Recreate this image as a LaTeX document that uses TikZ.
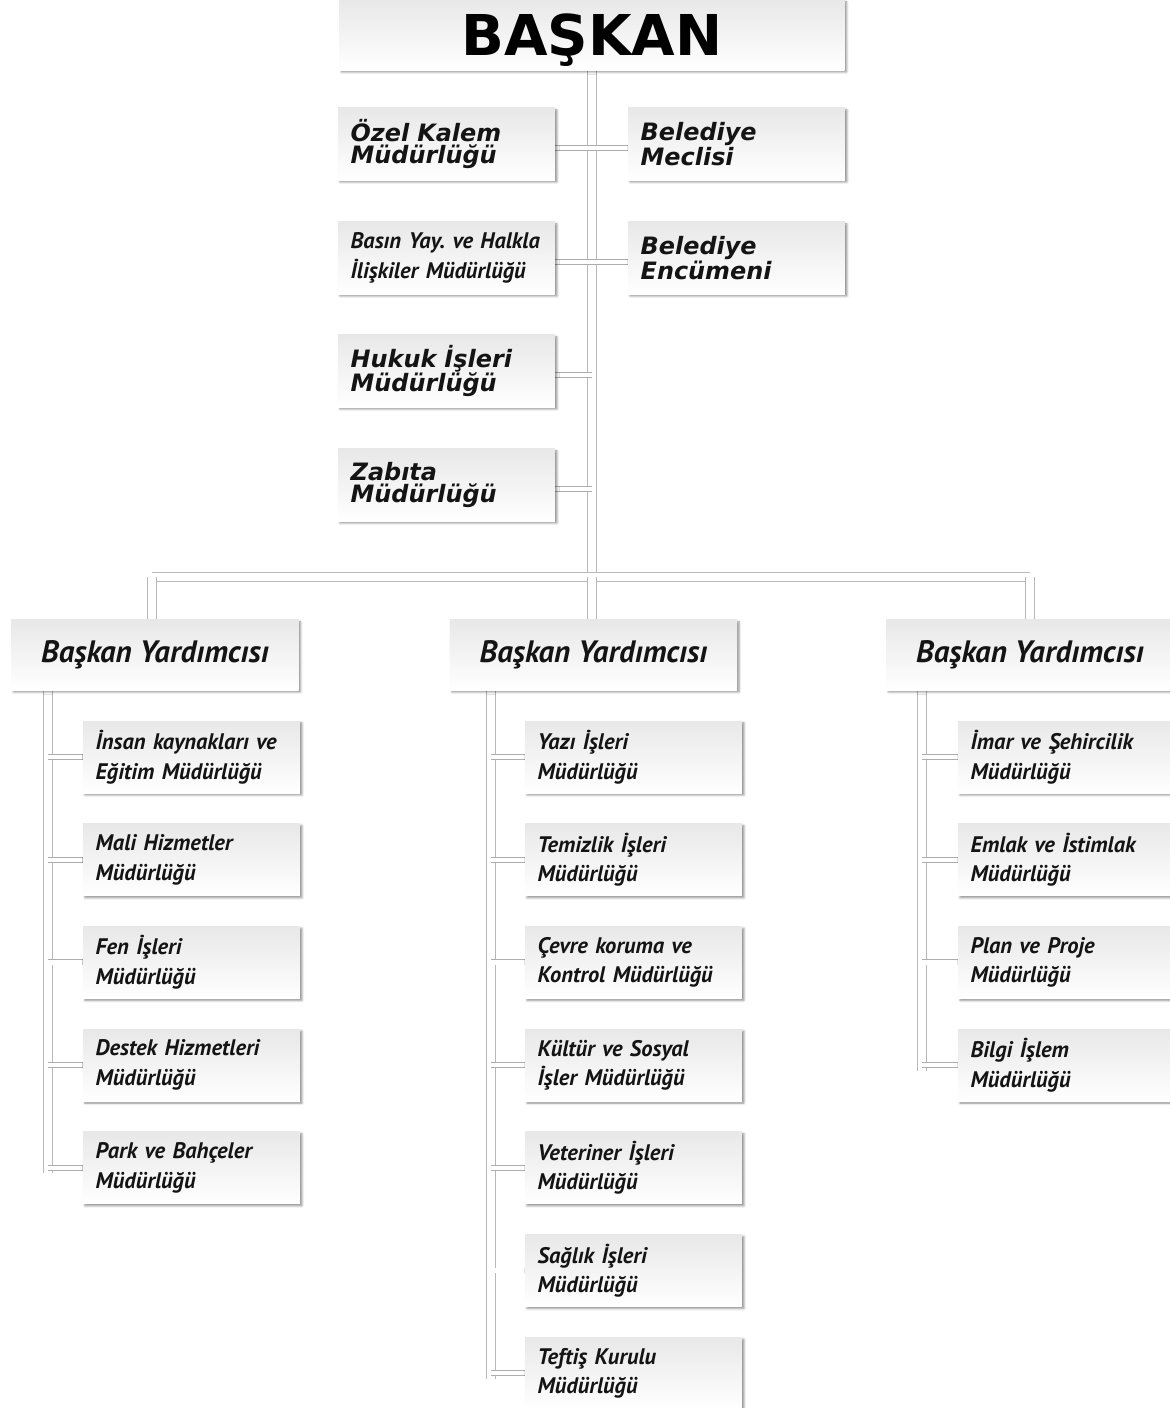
\documentclass[tikz,border=0pt]{standalone}
\usepackage{fontspec}
\setmainfont{PT Sans}
\newfontfamily\heavyfont{DejaVu Sans}
\usetikzlibrary{positioning,shadows.blur,backgrounds}
\frenchspacing

\begin{document}
\begin{tikzpicture}[x=0.025cm,y=-0.025cm,
  box/.style={rectangle,inner xsep=9pt,inner ysep=0pt,text=black!92,
    top color=black!9,bottom color=white,
    blur shadow={shadow xshift=1.4pt,shadow yshift=-1.4pt,shadow blur radius=1.6pt,shadow opacity=45},
    text width=4.79cm,minimum height=1.8cm,align=left},
  topbox/.style={box,font=\heavyfont\bfseries\itshape\fontsize{17}{16}\selectfont},
  subbox/.style={box,font=\bfseries\itshape\fontsize{16}{21}\selectfont},
  bybox/.style={box,text width=,minimum width=7.175cm,minimum height=1.75cm,align=center,
    font=\bfseries\itshape\fontsize{22}{24}\selectfont},
  pipe/.style={draw=black!28,line width=0.5pt,double=white,double distance=6pt},
  twig/.style={draw=black!32,line width=0.6pt,double=white,double distance=3pt}]
  \useasboundingbox (0,0) rectangle (1170,1408);

  % head
  \node[box,text width=,minimum width=12.625cm,minimum height=1.75cm,align=center,text depth=0pt,
    text=black,font=\heavyfont\bfseries\fontsize{40}{40}\selectfont] (bskn) at (592,35) {BAŞKAN};

  % units attached to the head
  \node[topbox] (ozel) at (446.5,144) {Özel Kalem\\Müdürlüğü};
  \node[subbox] (basin) at (446.5,258) {Basın Yay. ve Halkla\\İlişkiler Müdürlüğü};
  \node[topbox] (hukuk) at (446.5,371) {Hukuk İşleri\\Müdürlüğü};
  \node[topbox] (zabita) at (446.5,485) {Zabıta\\Müdürlüğü};
  \node[topbox] (meclis) at (736.5,144) {Belediye\\Meclisi};
  \node[topbox] (encumen) at (736.5,258) {Belediye\\Encümeni};

  % deputies
  \node[bybox] (by1) at (155,655) {Başkan Yardımcısı};
  \node[bybox] (by2) at (593.5,655) {Başkan Yardımcısı};
  \node[bybox] (by3) at (1030,655) {Başkan Yardımcısı};

  \foreach \t [count=\i] in {{İnsan kaynakları ve\\Eğitim Müdürlüğü},
      {Mali Hizmetler\\Müdürlüğü},{Fen İşleri\\Müdürlüğü},
      {Destek Hizmetleri\\Müdürlüğü},{Park ve Bahçeler\\Müdürlüğü}}
    \node[subbox] (a\i) at (191.5,{757+102.7*(\i-1)}) {\t};
  \foreach \t [count=\i] in {{Yazı İşleri\\Müdürlüğü},{Temizlik İşleri\\Müdürlüğü},
      {Çevre koruma ve\\Kontrol Müdürlüğü},{Kültür ve Sosyal\\İşler Müdürlüğü},
      {Veteriner İşleri\\Müdürlüğü},{Sağlık İşleri\\Müdürlüğü},
      {Teftiş Kurulu\\Müdürlüğü}}
    \node[subbox] (b\i) at (633.5,{757+102.7*(\i-1)}) {\t};
  \foreach \t [count=\i] in {{İmar ve Şehircilik\\Müdürlüğü},{Emlak ve İstimlak\\Müdürlüğü},
      {Plan ve Proje\\Müdürlüğü},{Bilgi İşlem\\Müdürlüğü}}
    \node[subbox] (c\i) at (1066.5,{757+102.7*(\i-1)}) {\t};

  % connectors
  \begin{scope}[on background layer]
    \coordinate (busL) at (152,577);
    \coordinate (busR) at (1030,577);
    \coordinate (busM) at (bskn.south |- busL);
    \draw[pipe] (bskn.south) -- (busM);
    \foreach \n in {ozel,basin,hukuk,zabita,meclis,encumen}
      \draw[twig] ([yshift=-3pt]\n.center) -- ([yshift=-3pt]\n.center -| busM);
    \draw[pipe] (busL) -- (busR);
    \draw[pipe] (busL) -- (busL |- by1.north);
    \draw[pipe] (busM) -- (busM |- by2.north);
    \draw[pipe] (busR) -- (busR |- by3.north);

    \coordinate (l1) at (48,0);
    \coordinate (l2) at (491,0);
    \coordinate (l3) at (922,0);
    \draw[pipe] (by1.south -| l1) -- ([yshift=-4pt]a5.west -| l1);
    \draw[pipe] (by2.south -| l2) -- ([yshift=-4pt]b7.west -| l2);
    \draw[pipe] (by3.south -| l3) -- ([yshift=-4pt]c4.west -| l3);
    \foreach \i in {1,...,5} \draw[twig] (a\i.west) -- (a\i.west -| l1);
    \foreach \i in {1,...,7} \draw[twig] (b\i.west) -- (b\i.west -| l2);
    \foreach \i in {1,...,4} \draw[twig] (c\i.west) -- (c\i.west -| l3);
  \end{scope}
\end{tikzpicture}
\end{document}
